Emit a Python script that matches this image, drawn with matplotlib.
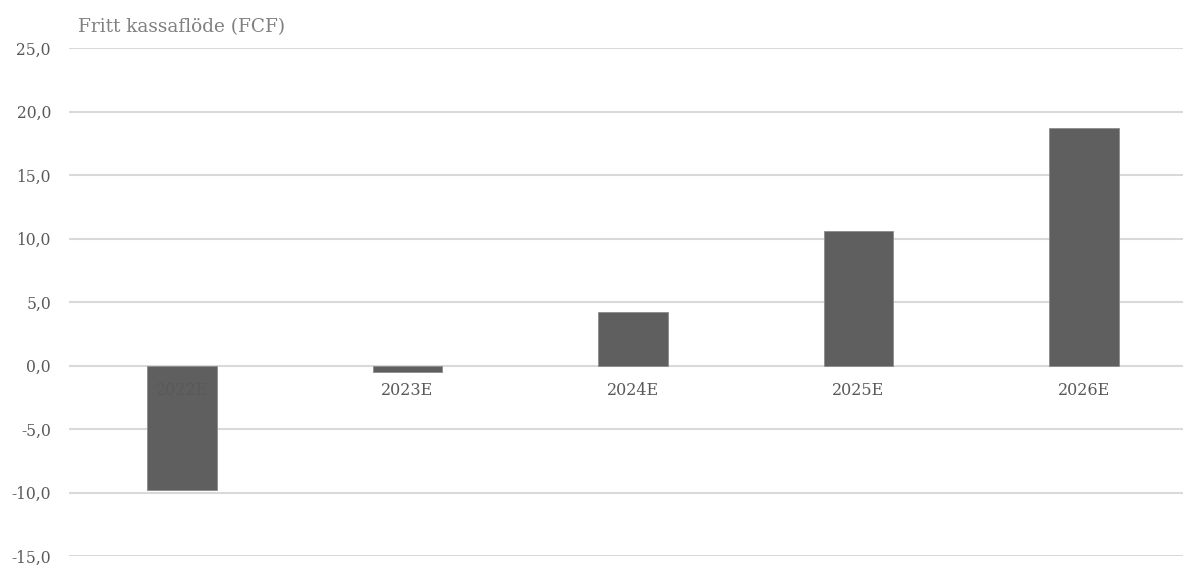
import matplotlib.pyplot as plt
from matplotlib.ticker import FuncFormatter, MultipleLocator

years = ['2022E', '2023E', '2024E', '2025E', '2026E']
fcf = [-9.8, -0.5, 4.2, 10.6, 18.7]


def comma_fmt(v, pos):
    return f'{v:.1f}'.replace('.', ',')


def main():
    plt.rcParams['font.family'] = ['DejaVu Serif']

    fig = plt.figure(figsize=(11.93, 5.67), dpi=100)
    ax = fig.add_axes([69 / 1193, 1 - 556 / 567, 1114 / 1193, 508 / 567])

    x = list(range(len(years)))
    ax.bar(x, fcf, width=0.31, color='#5f5f5f', edgecolor='#8c8c8c',
           linewidth=0.6, zorder=2)

    ax.set_xlim(-0.501, 4.439)
    ax.set_ylim(-15, 25)
    ax.yaxis.set_major_locator(MultipleLocator(5))
    ax.yaxis.set_major_formatter(FuncFormatter(comma_fmt))
    ax.grid(axis='y', color='#d9d9d9', linewidth=1.5, zorder=0)
    ax.set_axisbelow(True)

    for s in ax.spines.values():
        s.set_visible(False)
    ax.set_xticks([])
    ax.tick_params(axis='y', length=0, pad=13, labelsize=11.2, labelcolor='#595959')

    # category labels sit just under the zero line
    for xi, lab in zip(x, years):
        ax.annotate(lab, (xi, 0), xytext=(0, -18), textcoords='offset points',
                    ha='center', va='center', fontsize=11.5, color='#595959',
                    zorder=3)

    fig.text(78 / 1193, 1 - 27 / 567, 'Fritt kassaflöde (FCF)', fontsize=13.3,
             color='#808080', ha='left', va='center')

    fig.savefig('out.png', dpi=100)


if __name__ == "__main__":
    main()
